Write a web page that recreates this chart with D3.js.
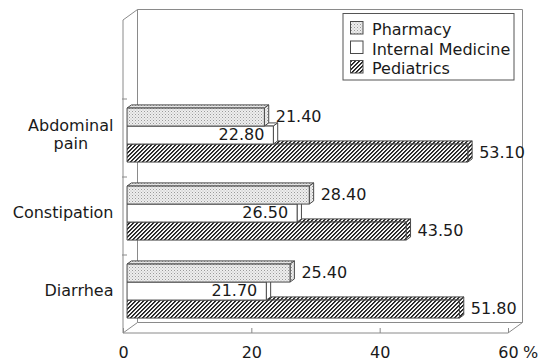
<!DOCTYPE html>
<html>
<head>
<meta charset="utf-8">
<script src="https://cdn.jsdelivr.net/npm/d3@7/dist/d3.min.js"></script>
<style>
  html, body { margin: 0; padding: 0; background: #fff; }
  svg { display: block; font-family: "DejaVu Sans", sans-serif; }
</style>
</head>
<body>
<svg id="chart" width="538" height="361"></svg>
<script>
// Symptom categories and the share (%) reported for each department
const categories = ["Abdominal pain", "Constipation", "Diarrhea"];
const seriesNames = ["Pharmacy", "Internal Medicine", "Pediatrics"];
const pharmacy = [21.4, 28.4, 25.4];
const internalMedicine = [22.8, 26.5, 21.7];
const pediatrics = [53.1, 43.5, 51.8];
const xTicks = [0, 20, 40, 60];
const xUnit = "%";

const seriesValues = [pharmacy, internalMedicine, pediatrics];

const svg = d3.select("#chart");
const ink = "#1a1a1a";
const frame = "#8a8a8a";
const edge = "#4a4a4a";

// Front plane of the box and its depth offset
const left = 123, right = 508, floorY = 333, topY = 20;
const depth = { dx: 14.5, dy: -10.5 };
const f1 = 0.28, f2 = 0.58; // bar front / back positions inside the depth

const x = d3.scaleLinear().domain([0, 60]).range([left, right]);
const y = d3.scaleBand().domain(categories).range([99, floorY]).padding(0);
const inner = d3.scaleBand().domain(seriesNames)
  .range([12, y.bandwidth() - 12]).padding(0);

// Fill patterns: fine dot screen and pixel-aligned diagonal hatching
const defs = svg.append("defs");
const dots = defs.append("pattern").attr("id", "dots")
  .attr("patternUnits", "userSpaceOnUse").attr("width", 3).attr("height", 3);
dots.append("rect").attr("width", 3).attr("height", 3).attr("fill", "#eeeeee");
dots.append("rect").attr("x", 0).attr("y", 0).attr("width", 1).attr("height", 1).attr("fill", "#9a9a9a");
dots.append("rect").attr("x", 1.5).attr("y", 1.5).attr("width", 1).attr("height", 1).attr("fill", "#b8b8b8");

const hatch = defs.append("pattern").attr("id", "hatch")
  .attr("patternUnits", "userSpaceOnUse").attr("width", 4).attr("height", 4)
  .attr("shape-rendering", "crispEdges");
hatch.append("rect").attr("width", 4).attr("height", 4).attr("fill", "#f6f6f6");
[[3, 0], [2, 1], [1, 2], [0, 3]].forEach(([c, r]) => {
  hatch.append("rect").attr("x", c).attr("y", r).attr("width", 1).attr("height", 1).attr("fill", "#222");
  hatch.append("rect").attr("x", (c + 1) % 4).attr("y", r).attr("width", 1).attr("height", 1).attr("fill", "#3a3a3a");
});

const fills = ["url(#dots)", "#ffffff", "url(#hatch)"];

// Box frame: back wall, floor and left wall edges
const bx = depth.dx, by = depth.dy;
const frameG = svg.append("g").attr("fill", "none").attr("stroke", frame).attr("stroke-width", 1);
frameG.append("path").attr("d", [
  `M${left},${floorY}V${topY}L${left + bx},${topY + by}H${right + bx}V${floorY + by}`,
  `M${left + bx},${topY + by}V${floorY + by}H${right + bx}`,
  `M${left},${floorY}H${right}L${right + bx},${floorY + by}`,
  `M${left},${floorY}L${left + bx},${floorY + by}`
].join(""));

// Category separators on the left wall
frameG.selectAll("line.sep")
  .data(categories)
  .join("line")
  .attr("x1", left - 1).attr("x2", left + 4)
  .attr("y1", d => y(d)).attr("y2", d => y(d));

// Value axis along the floor edge
const xAxis = d3.axisBottom(x).tickValues(xTicks).tickSizeInner(-5).tickSizeOuter(0).tickPadding(13.6);
const axG = svg.append("g").attr("transform", `translate(0,${floorY})`).call(xAxis);
axG.select(".domain").remove();
axG.selectAll(".tick line").attr("stroke", frame);
axG.selectAll(".tick text").attr("fill", ink).style("font-size", "16px")
  .style("font-family", "DejaVu Sans, sans-serif");
svg.append("text").attr("x", 523).attr("y", 358)
  .attr("fill", ink).style("font-size", "16px").text(xUnit);

// Bars drawn as simple prisms: front face, top face and right end face
const ox1 = f1 * bx, oy1 = f1 * by, ox2 = f2 * bx, oy2 = f2 * by;
const barsG = svg.append("g");
categories.forEach((cat, ci) => {
  const g = barsG.append("g");
  const order = [2, 1, 0];
  order.forEach(si => {
    const v = seriesValues[si][ci];
    const x0 = x(0), x1 = x(v);
    const yt = y(cat) + inner(seriesNames[si]);
    const h = inner.bandwidth();
    const bar = g.append("g").attr("stroke", edge).attr("stroke-width", 1)
      .attr("fill", fills[si]).attr("stroke-linejoin", "round");
    bar.append("path").attr("d",
      `M${x0 + ox1},${yt + oy1}L${x1 + ox1},${yt + oy1}L${x1 + ox2},${yt + oy2}L${x0 + ox2},${yt + oy2}Z`);
    bar.append("path").attr("d",
      `M${x1 + ox1},${yt + oy1}L${x1 + ox2},${yt + oy2}L${x1 + ox2},${yt + h + oy2}L${x1 + ox1},${yt + h + oy1}Z`);
    bar.append("rect")
      .attr("x", x0 + ox1).attr("y", yt + oy1)
      .attr("width", x1 - x0).attr("height", h);
  });
  // Value labels
  seriesNames.forEach((name, si) => {
    const v = seriesValues[si][ci];
    const yc = y(cat) + inner(name) + inner.bandwidth() / 2 + oy1;
    const t = g.append("text")
      .attr("y", yc + 4.5)
      .attr("fill", ink).style("font-size", "16px")
      .text(v.toFixed(2));
    if (si === 1) {
      t.attr("x", x(v) + ox1 - 9).attr("text-anchor", "end");
    } else {
      t.attr("x", x(v) + ox2 + 7).attr("text-anchor", "start");
    }
  });
});

// Category labels, right aligned beside the left wall, multi-word names wrapped
const labelRight = 113.5, lineH = 18.8;
categories.forEach(cat => {
  const lines = cat.split(" ");
  const yc = y(cat) + y.bandwidth() / 2 + oy1;
  const t = svg.append("text").attr("fill", ink).style("font-size", "16px")
    .attr("text-anchor", "middle");
  const spans = lines.map((ln, i) => t.append("tspan")
    .attr("y", yc - lineH * (lines.length - 1) / 2 + i * lineH + 5)
    .text(ln));
  const maxW = d3.max(spans, s => s.node().getComputedTextLength());
  spans.forEach(s => s.attr("x", labelRight - maxW / 2));
});

// Legend
const lg = svg.append("g");
lg.append("rect").attr("x", 343).attr("y", 13.5).attr("width", 171).attr("height", 66.5)
  .attr("fill", "#fff").attr("stroke", "#555").attr("stroke-width", 1);
const baselines = [35, 54.5, 74];
seriesNames.forEach((name, i) => {
  lg.append("rect").attr("x", 350.5).attr("y", baselines[i] - 13.5)
    .attr("width", 12.5).attr("height", 12.5)
    .attr("fill", fills[i]).attr("stroke", edge).attr("stroke-width", 1);
  lg.append("text").attr("x", 372).attr("y", baselines[i])
    .attr("fill", ink).style("font-size", "16px").text(name);
});
</script>
</body>
</html>
